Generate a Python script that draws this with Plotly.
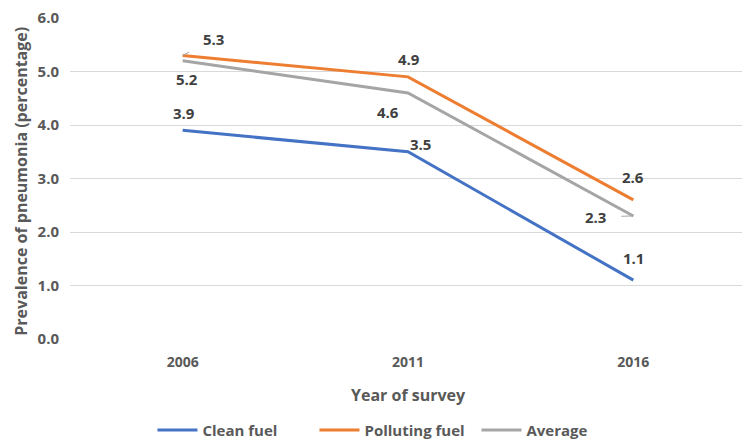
import plotly.graph_objects as go

years = ["2006", "2011", "2016"]
clean_fuel = [3.9, 3.5, 1.1]
polluting_fuel = [5.3, 4.9, 2.6]
average = [5.2, 4.6, 2.3]
y_ticks = [0, 1, 2, 3, 4, 5, 6]

FONT = "Open Sans"
TXT = "#404040"
TICK = "#595959"

fig = go.Figure()
series = [
    ("Clean fuel", clean_fuel, "#4472C4"),
    ("Polluting fuel", polluting_fuel, "#ED7D31"),
    ("Average", average, "#A5A5A5"),
]
for name, vals, col in series:
    fig.add_trace(go.Scatter(x=years, y=vals, name=f"<b>{name}</b>", mode="lines",
                             line=dict(color=col, width=3)))

# label offsets (pixels)
offsets = {
    "Clean fuel": [(1, 17), (12, 8), (0, 22)],
    "Polluting fuel": [None, (1, 18), (0, 23)],
    "Average": [(4, -18), (-20, -19), None],
}
annotations = []
for name, vals, col in series:
    for i, v in enumerate(vals):
        off = offsets[name][i]
        if off is None:
            continue
        annotations.append(dict(x=i, y=v, xref="x", yref="y", text=f"<b>{v:.1f}</b>",
                                showarrow=False, xshift=off[0], yshift=off[1],
                                font=dict(family=FONT, size=15, color=TXT)))
# labels with leader lines
annotations.append(dict(x=0, y=polluting_fuel[0], xref="x", yref="y",
                        text=f"<b>{polluting_fuel[0]:.1f}</b>", showarrow=True,
                        ax=31, ay=-16, arrowhead=0, arrowwidth=1, arrowcolor="#A5A5A5",
                        standoff=0, startstandoff=14,
                        font=dict(family=FONT, size=15, color=TXT)))
annotations.append(dict(x=2, y=average[2], xref="x", yref="y",
                        text=f"<b>{average[2]:.1f}</b>", showarrow=True,
                        ax=-38, ay=1, arrowhead=0, arrowwidth=1, arrowcolor="#A5A5A5",
                        standoff=0, startstandoff=14,
                        font=dict(family=FONT, size=15, color=TXT)))
# axis titles
annotations.append(dict(text="<b>Year of survey</b>", xref="paper", yref="paper",
                        x=0.5, y=-0.174, showarrow=False, yanchor="middle",
                        font=dict(family=FONT, size=16, color=TICK)))
annotations.append(dict(text="<b>Prevalence of pneumonia (percentage)</b>", xref="paper", yref="paper",
                        x=-0.0917, y=0.49, showarrow=False, textangle=-90, xanchor="left", yanchor="middle",
                        font=dict(family=FONT, size=16, color=TICK)))

fig.update_layout(
    width=750, height=443,
    margin=dict(l=62, r=12, t=10, b=112, autoexpand=False),
    plot_bgcolor="white", paper_bgcolor="white",
    font=dict(family=FONT, color=TICK),
    annotations=annotations,
    showlegend=True,
    legend=dict(orientation="h", x=0.122, xanchor="left", y=0.047, yref="container",
                yanchor="middle", entrywidth=107, entrywidthmode="pixels",
                font=dict(family=FONT, size=15, color=TICK), itemwidth=40,
                traceorder="normal"),
    xaxis=dict(type="category", showgrid=False, zeroline=False, showline=False,
               ticks="", tickfont=dict(family=FONT, size=14, color=TICK),
               range=[-0.5, 2.5], ticklabelstandoff=13, automargin=False),
    yaxis=dict(range=[0, 6], tickvals=y_ticks, ticktext=[f"<b>{t:.1f}</b>" for t in y_ticks],
               showgrid=True, gridcolor="#D9D9D9", gridwidth=1.3, zeroline=False,
               showline=False, ticks="", ticklabelstandoff=10, automargin=False,
               ticklabeloverflow="allow",
               tickfont=dict(family=FONT, size=15, color=TICK)),
)
fig.update_xaxes(ticktext=[f"<b>{y}</b>" for y in years], tickvals=years)
fig.write_html("out.html")
